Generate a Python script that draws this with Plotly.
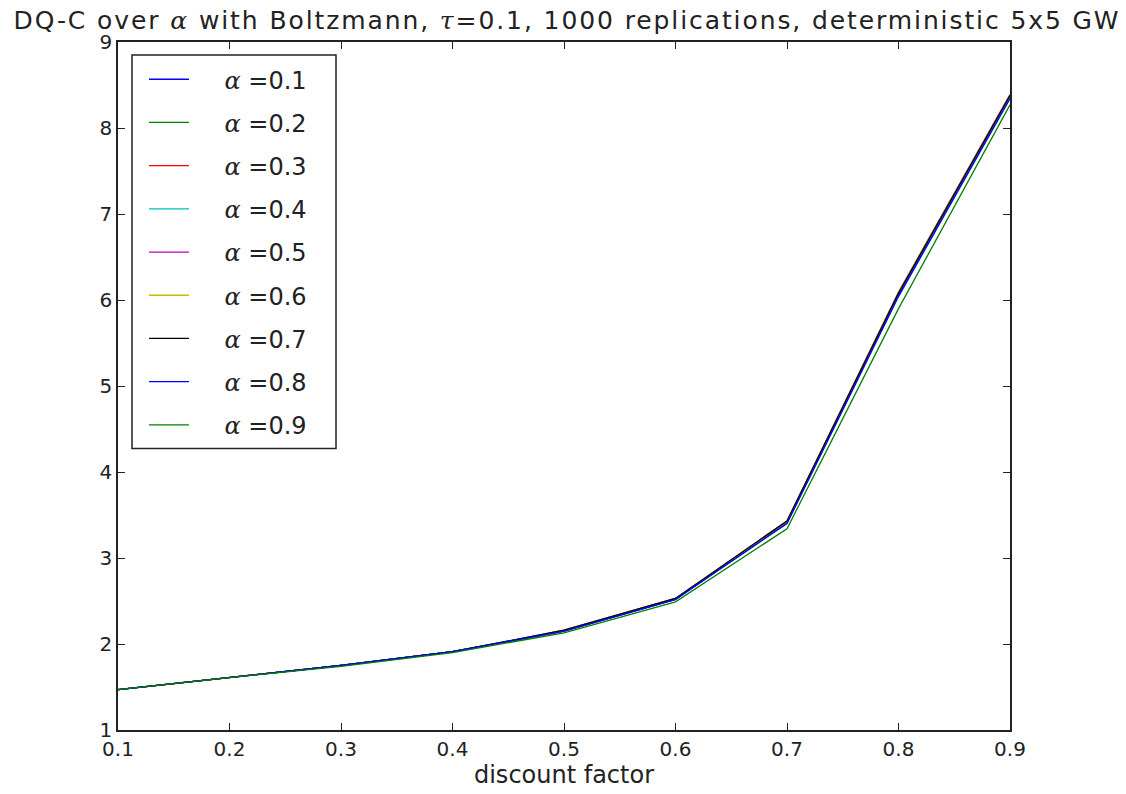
import plotly.graph_objects as go

gammas = [0.1, 0.2, 0.3, 0.4, 0.5, 0.6, 0.7, 0.8, 0.9]
alphas = [0.1, 0.2, 0.3, 0.4, 0.5, 0.6, 0.7, 0.8, 0.9]
colors = ["#0000ff", "#008000", "#ff0000", "#00bfbf", "#bf00bf", "#bfbf00", "#000000", "#0000ff", "#008000"]

values = {
    0.1: [1.47, 1.61, 1.75, 1.91, 2.15, 2.52, 3.41, 6.06, 8.36],
    0.2: [1.47, 1.61, 1.75, 1.91, 2.15, 2.52, 3.42, 6.07, 8.37],
    0.3: [1.47, 1.61, 1.75, 1.91, 2.15, 2.53, 3.42, 6.08, 8.38],
    0.4: [1.47, 1.61, 1.75, 1.91, 2.15, 2.53, 3.42, 6.08, 8.38],
    0.5: [1.47, 1.61, 1.75, 1.91, 2.16, 2.53, 3.43, 6.09, 8.39],
    0.6: [1.47, 1.61, 1.75, 1.91, 2.16, 2.53, 3.43, 6.09, 8.38],
    0.7: [1.47, 1.61, 1.75, 1.91, 2.16, 2.53, 3.43, 6.08, 8.38],
    0.8: [1.47, 1.61, 1.75, 1.91, 2.15, 2.52, 3.40, 6.04, 8.34],
    0.9: [1.47, 1.61, 1.74, 1.90, 2.13, 2.49, 3.34, 5.90, 8.27],
}

xticks = [0.1, 0.2, 0.3, 0.4, 0.5, 0.6, 0.7, 0.8, 0.9]
yticks = [1, 2, 3, 4, 5, 6, 7, 8, 9]

ALPHA = '<span style="font-family:DejaVu Serif;font-style:italic">α</span>'
TAU = '<span style="font-family:DejaVu Serif;font-style:italic">τ</span>'

fig = go.Figure()
for a, c in zip(alphas, colors):
    fig.add_trace(go.Scatter(
        x=gammas, y=values[a], mode="lines",
        line=dict(color=c, width=1.3),
        name=f"    {ALPHA} =" + f"{a}",
        legendgroup=str(a),
    ))

axis_common = dict(
    showline=True, linecolor="#222222", linewidth=1.5, mirror="ticks",
    ticks="inside", ticklen=7, tickcolor="#222222", tickwidth=1,
    showgrid=False, zeroline=False,
    tickfont=dict(family="DejaVu Sans", size=20, color="#222222"),
)

# legend frame (drawn as a layout rectangle)
fig.add_shape(type="rect", xref="paper", yref="paper",
              x0=0.0157, x1=0.2444, y0=0.409, y1=0.9812,
              line=dict(color="#222222", width=1.5), fillcolor="white", layer="above")

title_text = (
    '<span style="letter-spacing:1.9px">'
    f"DQ-C over {ALPHA} with Boltzmann, {TAU}=0.1, 1000 replications, deterministic 5x5 GW"
    "</span>"
)

fig.update_layout(
    width=1118, height=786,
    margin=dict(l=110, r=116, t=34, b=60),
    plot_bgcolor="white", paper_bgcolor="white",
    title=dict(
        text=title_text,
        x=0.5, xanchor="center", y=0.985, yanchor="middle",
        font=dict(family="DejaVu Sans", size=25, color="#222222"),
    ),
    xaxis=dict(range=[0.1, 0.9], tickvals=xticks, ticktext=[str(v) for v in xticks],
               title=dict(text="discount factor", font=dict(family="DejaVu Sans", size=24, color="#222222"), standoff=4),
               **axis_common),
    yaxis=dict(range=[1, 9], tickvals=yticks, ticktext=[str(v) for v in yticks], **axis_common),
    legend=dict(
        x=0.0291, y=0.978, xanchor="left", yanchor="top",
        bgcolor="rgba(0,0,0,0)", borderwidth=0,
        font=dict(family="DejaVu Sans", size=24, color="#222222"),
        traceorder="grouped", tracegroupgap=9,
        itemwidth=40,
    ),
    showlegend=True,
)

fig.write_html("out.html")
